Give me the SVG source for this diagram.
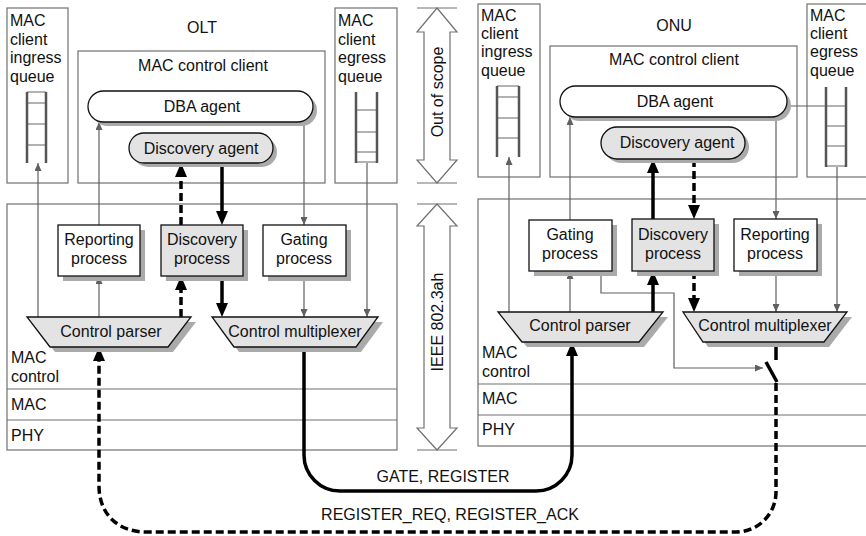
<svg xmlns="http://www.w3.org/2000/svg" width="866" height="536" viewBox="0 0 866 536">
<style>
.ct{fill:none;stroke:#707070;stroke-width:1.2}
.box{fill:#fff;stroke:#111;stroke-width:1.3}
.gbox{fill:#e3e3e3;stroke:#111;stroke-width:1.3}
.sh{fill:#aaa}
.t{font-family:"Liberation Sans",Arial,Helvetica,sans-serif;font-size:16px;fill:#111}
.m{text-anchor:middle}
.ln{fill:none;stroke:#606060;stroke-width:1.2}
.th{fill:none;stroke:#000;stroke-width:3.5}
.dh{fill:none;stroke:#000;stroke-width:3.5;stroke-dasharray:8 4}
.lad{fill:none;stroke:#555;stroke-width:2.5}
.rung{stroke:#666;stroke-width:1.2}
.dbl{fill:#fff;stroke:#707070;stroke-width:1.2}
</style>
<defs>
<marker id="ah" viewBox="0 0 8 7" refX="8" refY="3.5" markerWidth="8" markerHeight="7" markerUnits="userSpaceOnUse" orient="auto"><path d="M0,0 L8,3.5 L0,7 z" fill="#606060"/></marker>
<marker id="AH" viewBox="0 0 14 12" refX="1" refY="6" markerWidth="14" markerHeight="12" markerUnits="userSpaceOnUse" orient="auto"><path d="M0,0 L14,6 L0,12 z" fill="#000"/></marker>
</defs>
<rect width="866" height="536" fill="#fff"/>

<!-- OLT containers -->
<g id="olt-ingress">
<rect class="ct" x="7" y="8" width="61" height="175"/>
<text class="t" x="10" y="26">MAC</text><text class="t" x="10" y="45">client</text><text class="t" x="10" y="63">ingress</text><text class="t" x="10" y="82">queue</text>
<path class="rung" d="M27,92H46M27,103H46M27,124H46M27,145H46"/>
<path class="lad" d="M27,92V163M46,92V163"/>
</g>
<g id="olt-title"><text class="t m" x="202" y="33">OLT</text></g>
<g id="olt-mcc">
<rect class="ct" x="78" y="51" width="247" height="132"/>
<text class="t m" x="203" y="71">MAC control client</text>
</g>
<g id="olt-egress">
<rect class="ct" x="335" y="8" width="62" height="175"/>
<text class="t" x="338" y="26">MAC</text><text class="t" x="338" y="45">client</text><text class="t" x="338" y="63">egress</text><text class="t" x="338" y="82">queue</text>
<path class="rung" d="M356,110H377M356,132H377M356,152H377M356,162H377"/>
<path class="lad" d="M356,92V163M377,92V163"/>
</g>
<g id="olt-lower">
<rect class="ct" x="7" y="204" width="390" height="246"/>
<path class="ct" d="M7,389H397M7,420H397"/>
<text class="t" x="11" y="363">MAC</text><text class="t" x="11" y="382">control</text>
<text class="t" x="11" y="410">MAC</text><text class="t" x="11" y="441">PHY</text>
</g>

<!-- scope arrows -->
<g id="out-of-scope">
<path class="ct" d="M417,8H457M417,183H457"/>
<polygon class="dbl" points="437,8 457,32 450,32 450,160 457,160 437,183 417,160 424,160 424,32 417,32"/>
<text class="t m" transform="translate(443,92) rotate(-90)">Out of scope</text>
</g>
<g id="ieee">
<path class="ct" d="M417,204H457M417,450H457"/>
<polygon class="dbl" points="437,204 457,226 450,226 450,428 457,428 437,450 417,428 424,428 424,226 417,226"/>
<text class="t m" transform="translate(443,322) rotate(-90)">IEEE 802.3ah</text>
</g>

<!-- ONU containers -->
<g id="onu-ingress">
<rect class="ct" x="478" y="4" width="62" height="173"/>
<text class="t" x="481" y="21">MAC</text><text class="t" x="481" y="39">client</text><text class="t" x="481" y="57">ingress</text><text class="t" x="481" y="76">queue</text>
<path class="rung" d="M497,86H519M497,97H519M497,118H519M497,138H519"/>
<path class="lad" d="M497,86V157M519,86V157"/>
</g>
<g id="onu-title"><text class="t m" x="674" y="31">ONU</text></g>
<g id="onu-mcc">
<rect class="ct" x="550" y="46" width="247" height="131"/>
<text class="t m" x="674" y="65">MAC control client</text>
</g>
<g id="onu-egress">
<rect class="ct" x="807" y="4" width="80" height="173"/>
<text class="t" x="810" y="21">MAC</text><text class="t" x="810" y="39">client</text><text class="t" x="810" y="57">egress</text><text class="t" x="810" y="76">queue</text>
<path class="rung" d="M826,106H846M826,126H846M826,146H846M826,166H846"/>
<path class="lad" d="M826,87V167M846,87V167"/>
</g>
<g id="onu-lower">
<rect class="ct" x="478" y="199" width="410" height="247"/>
<path class="ct" d="M478,384H888M478,415H888"/>
<text class="t" x="482" y="358">MAC</text><text class="t" x="482" y="377">control</text>
<text class="t" x="482" y="404">MAC</text><text class="t" x="482" y="435">PHY</text>
</g>

<!-- connectors -->
<g id="connectors">
<path class="ln" d="M38,317V163" marker-end="url(#ah)"/>
<path class="ln" d="M99,317V276" marker-end="url(#ah)"/>
<path class="ln" d="M99,225V122" marker-end="url(#ah)"/>
<path class="ln" d="M304,122V225" marker-end="url(#ah)"/>
<path class="ln" d="M304,276V317" marker-end="url(#ah)"/>
<path class="ln" d="M367,163V317" marker-end="url(#ah)"/>
<path class="th" d="M222,163V212" marker-end="url(#AH)"/>
<path class="th" d="M222,276V304" marker-end="url(#AH)"/>
<path class="dh" d="M181,317V289" marker-end="url(#AH)"/>
<path class="dh" d="M181,225V176" marker-end="url(#AH)"/>
<path class="ln" d="M509,312V157" marker-end="url(#ah)"/>
<path class="ln" d="M570,312V271" marker-end="url(#ah)"/>
<path class="ln" d="M570,220V117" marker-end="url(#ah)"/>
<path class="ln" d="M826,106H779" marker-end="url(#ah)"/>
<path class="ln" d="M776,114V219" marker-end="url(#ah)"/>
<path class="ln" d="M776,271V312" marker-end="url(#ah)"/>
<path class="ln" d="M837,167V312" marker-end="url(#ah)"/>
<path class="ln" d="M601,271V293H674V368H763" marker-end="url(#ah)"/>
<path class="th" d="M653,312V284" marker-end="url(#AH)"/>
<path class="th" d="M653,219V172" marker-end="url(#AH)"/>
<path class="dh" d="M694,159V206" marker-end="url(#AH)"/>
<path class="dh" d="M694,271V299" marker-end="url(#AH)"/>
<path class="th" d="M776,342V360M766,362L777,382"/>
<path class="th" d="M304,347V455A36,36 0 0 0 340,491H536A36,36 0 0 0 572,455V355" marker-end="url(#AH)"/>
<path class="dh" d="M776,383V492A40,40 0 0 1 736,532H146C118,532 99,514 99,486V360" marker-end="url(#AH)"/>
<text class="t m" x="443" y="482">GATE, REGISTER</text>
<text class="t m" x="450" y="520">REGISTER_REQ, REGISTER_ACK</text>
</g>

<!-- OLT nodes -->
<g id="olt-dba">
<rect class="sh" x="92" y="95" width="225" height="31" rx="15.5"/>
<rect class="box" x="88" y="91" width="225" height="31" rx="15.5"/>
<text class="t m" x="202" y="112">DBA agent</text>
</g>
<g id="olt-disc-agent">
<rect class="sh" x="133" y="137" width="144" height="30" rx="15"/>
<rect class="gbox" x="129" y="133" width="144" height="30" rx="15"/>
<text class="t m" x="201" y="154">Discovery agent</text>
</g>
<g id="olt-reporting">
<rect class="sh" x="63" y="230" width="82" height="51"/>
<rect class="box" x="58" y="225" width="82" height="51"/>
<text class="t m" x="99" y="245">Reporting</text><text class="t m" x="99" y="264">process</text>
</g>
<g id="olt-discovery">
<rect class="sh" x="166" y="230" width="82" height="51"/>
<rect class="gbox" x="161" y="225" width="82" height="51"/>
<text class="t m" x="202" y="245">Discovery</text><text class="t m" x="202" y="264">process</text>
</g>
<g id="olt-gating">
<rect class="sh" x="268" y="230" width="83" height="51"/>
<rect class="box" x="263" y="225" width="83" height="51"/>
<text class="t m" x="304" y="245">Gating</text><text class="t m" x="304" y="264">process</text>
</g>
<g id="olt-parser">
<polygon class="sh" points="32,322 196,322 173,352 55,352"/>
<polygon class="gbox" points="27,317 191,317 168,347 50,347"/>
<text class="t m" x="111" y="337">Control parser</text>
</g>
<g id="olt-mux">
<polygon class="sh" points="217,322 383,322 361,352 239,352"/>
<polygon class="gbox" points="212,317 378,317 356,347 234,347"/>
<text class="t m" x="295" y="337">Control multiplexer</text>
</g>

<!-- ONU nodes -->
<g id="onu-dba">
<rect class="sh" x="564" y="90" width="227" height="31" rx="15.5"/>
<rect class="box" x="560" y="86" width="227" height="31" rx="15.5"/>
<text class="t m" x="675" y="107">DBA agent</text>
</g>
<g id="onu-disc-agent">
<rect class="sh" x="605" y="131" width="144" height="32" rx="16"/>
<rect class="gbox" x="601" y="127" width="144" height="32" rx="16"/>
<text class="t m" x="677" y="148">Discovery agent</text>
</g>
<g id="onu-gating">
<rect class="sh" x="534" y="225" width="83" height="51"/>
<rect class="box" x="529" y="220" width="83" height="51"/>
<text class="t m" x="570" y="240">Gating</text><text class="t m" x="570" y="259">process</text>
</g>
<g id="onu-discovery">
<rect class="sh" x="637" y="224" width="82" height="52"/>
<rect class="gbox" x="632" y="219" width="82" height="52"/>
<text class="t m" x="673" y="240">Discovery</text><text class="t m" x="673" y="259">process</text>
</g>
<g id="onu-reporting">
<rect class="sh" x="739" y="224" width="83" height="52"/>
<rect class="box" x="734" y="219" width="83" height="52"/>
<text class="t m" x="775" y="240">Reporting</text><text class="t m" x="775" y="259">process</text>
</g>
<g id="onu-parser">
<polygon class="sh" points="503,317 668,317 644,347 527,347"/>
<polygon class="gbox" points="498,312 663,312 639,342 522,342"/>
<text class="t m" x="580" y="331">Control parser</text>
</g>
<g id="onu-mux">
<polygon class="sh" points="688,317 852,317 829,347 708,347"/>
<polygon class="gbox" points="683,312 847,312 824,342 703,342"/>
<text class="t m" x="765" y="331">Control multiplexer</text>
</g>
</svg>
